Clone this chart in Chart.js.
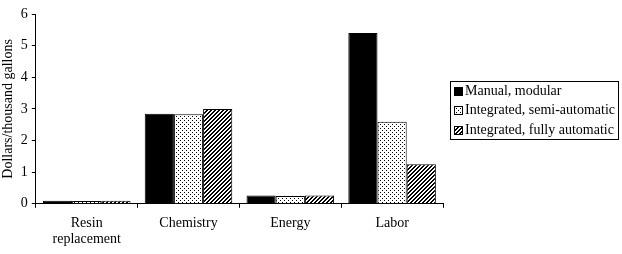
<!DOCTYPE html>
<html>
<head>
<meta charset="utf-8">
<script src="https://cdn.jsdelivr.net/npm/chart.js@4/dist/chart.umd.min.js"></script>
<style>
  html, body { margin: 0; padding: 0; background: #fff; }
  #wrap { width: 622px; height: 254px; }
</style>
</head>
<body>
<div id="wrap"><canvas id="costChart" width="622" height="254"></canvas></div>
<script>
const categories = [["Resin", "replacement"], "Chemistry", "Energy", "Labor"];
const seriesNames = ["Manual, modular", "Integrated, semi-automatic", "Integrated, fully automatic"];
const manualModular = [0.1, 2.85, 0.26, 5.4];
const semiAutomatic = [0.09, 2.83, 0.25, 2.59];
const fullyAutomatic = [0.1, 3.0, 0.26, 1.25];
const yTicks = [0, 1, 2, 3, 4, 5, 6];

const FONT = "'Liberation Serif', 'Times New Roman', serif";

// small tiles for the fills
function dotPattern() {
  const c = document.createElement("canvas");
  c.width = 4; c.height = 4;
  const g = c.getContext("2d");
  g.fillStyle = "#fff";
  g.fillRect(0, 0, 4, 4);
  g.fillStyle = "#000";
  g.fillRect(0, 0, 1, 1);
  g.fillRect(2, 2, 1, 1);
  return g.createPattern(c, "repeat");
}

function hatchPattern() {
  const c = document.createElement("canvas");
  c.width = 4; c.height = 4;
  const g = c.getContext("2d");
  g.fillStyle = "#fff";
  g.fillRect(0, 0, 4, 4);
  g.fillStyle = "#000";
  for (let x = 0; x < 4; x++) {
    for (let y = 0; y < 4; y++) {
      if ((x + y) % 4 < 2) g.fillRect(x, y, 1, 1);
    }
  }
  return g.createPattern(c, "repeat");
}

const fills = ["#000", dotPattern(), hatchPattern()];

// boxed legend on the right
const boxLegend = {
  id: "boxLegend",
  afterDraw(chart) {
    const ctx = chart.ctx;
    ctx.save();
    ctx.strokeStyle = "#000";
    ctx.lineWidth = 1;
    ctx.strokeRect(450.5, 81.5, 168, 58);
    ctx.font = "14px " + FONT;
    ctx.textBaseline = "middle";
    ctx.textAlign = "left";
    seriesNames.forEach((name, i) => {
      const y = 91 + i * 19.5;
      ctx.fillStyle = fills[i];
      ctx.fillRect(454, Math.round(y - 4.5), 9, 9);
      ctx.strokeRect(454.5, Math.round(y - 4.5) + 0.5, 8, 8);
      ctx.fillStyle = "#000";
      ctx.fillText(name, 465, y);
    });
    ctx.restore();
  },
};

new Chart(document.getElementById("costChart").getContext("2d"), {
  type: "bar",
  data: {
    labels: categories,
    datasets: [manualModular, semiAutomatic, fullyAutomatic].map((vals, i) => ({
      label: seriesNames[i],
      data: vals,
      backgroundColor: fills[i],
      borderColor: "#000",
      borderWidth: 1,
      categoryPercentage: 0.86,
      barPercentage: 1.0,
    })),
  },
  options: {
    responsive: false,
    animation: false,
    layout: { padding: { top: 14, right: 179, left: 0, bottom: 0 } },
    plugins: { legend: { display: false }, tooltip: { enabled: false } },
    scales: {
      x: {
        grid: { drawOnChartArea: false, offset: true, tickLength: 4, color: "#000" },
        border: { color: "#000", width: 1 },
        ticks: { color: "#000", font: { family: FONT, size: 14, lineHeight: 1.15 }, padding: 7, maxRotation: 0 },
      },
      y: {
        min: 0,
        max: 6,
        afterBuildTicks: (axis) => { axis.ticks = yTicks.map((v) => ({ value: v })); },
        grid: { drawOnChartArea: false, tickLength: 4, color: "#000" },
        border: { color: "#000", width: 1 },
        ticks: { color: "#000", font: { family: FONT, size: 14 }, padding: 4 },
        title: {
          display: true,
          text: "Dollars/thousand gallons",
          color: "#000",
          font: { family: FONT, size: 14 },
          padding: { top: 0, bottom: 0 },
        },
      },
    },
  },
  plugins: [boxLegend],
});
</script>
</body>
</html>
